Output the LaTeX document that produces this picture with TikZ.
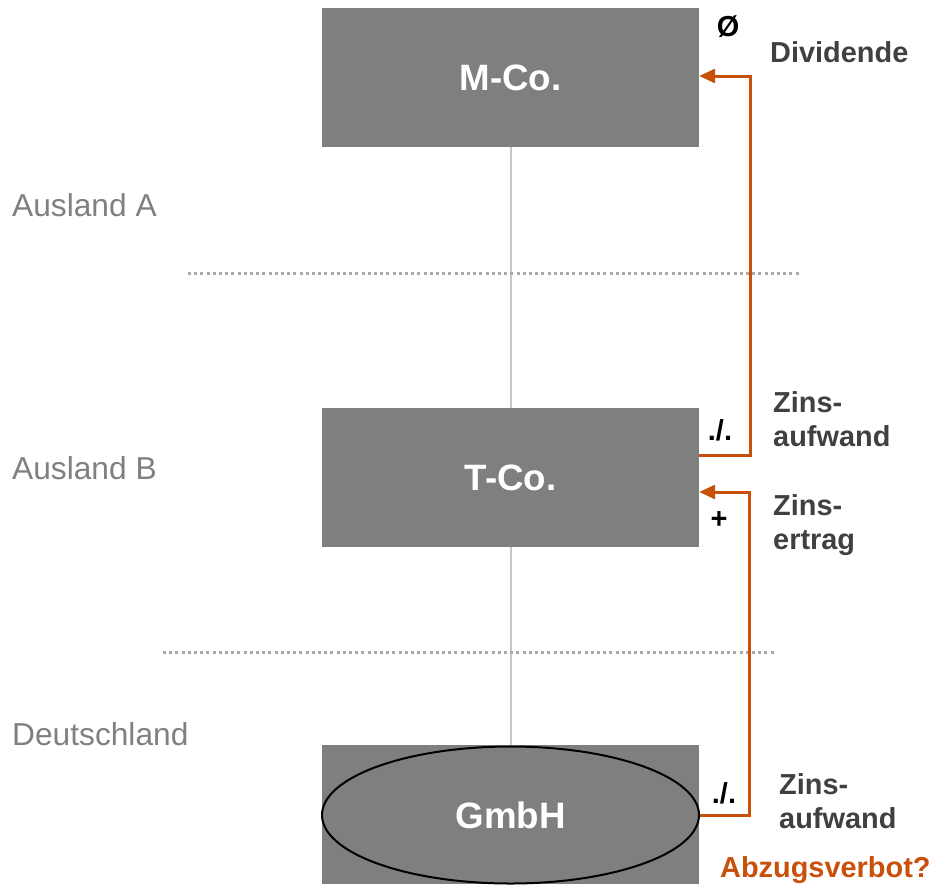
\documentclass[tikz,border=0pt]{standalone}
\usepackage{fontspec}
\setmainfont{Liberation Sans}
\usetikzlibrary{arrows.meta,calc,shapes.geometric}
\definecolor{boxgray}{RGB}{127,127,127}
\definecolor{txtgray}{RGB}{128,128,128}
\definecolor{lbl}{RGB}{64,64,64}
\definecolor{orng}{RGB}{200,80,10}
\definecolor{conn}{RGB}{200,200,200}
\definecolor{dots}{RGB}{170,170,170}
\tikzset{
  entity/.style={fill=boxgray, draw=none, minimum width=377pt, minimum height=139pt, inner sep=0pt,
    text=white, font=\fontsize{36.7}{40}\selectfont\bfseries},
  country/.style={anchor=base west, inner sep=0pt, text=txtgray, font=\fontsize{31.7}{36}\selectfont},
  flowlbl/.style={anchor=base west, inner sep=0pt, text=lbl, align=left, font=\fontsize{28.9}{34}\selectfont\bfseries},
  sign/.style={anchor=base, inner sep=0pt, text=black, font=\fontsize{28.9}{34}\selectfont\bfseries},
  flow/.style={draw=orng, line width=3pt, -{Triangle[length=16pt,width=14pt]}},
  link/.style={draw=conn, line width=2pt},
  border/.style={draw=dots, line width=3pt, dash pattern=on 3pt off 3.2pt},
}
\begin{document}
\begin{tikzpicture}[x=1pt,y=-1pt]
\useasboundingbox (0,0) rectangle (934,884);
% entities
\node[entity] (mco) at (510.5,77.5) {M-Co.};
\node[entity] (tco) at (510.5,477.5) {T-Co.};
\node[entity] (gbox) at (510.5,814.5) {};
\node[ellipse, draw=black, line width=2pt, minimum width=377pt, minimum height=137pt, inner sep=0pt,
  text=white, font=\fontsize{36.7}{40}\selectfont\bfseries] (gmbh) at (510.5,815) {GmbH};
% vertical links
\draw[link] (mco.south) -- (tco.north);
\draw[link] (tco.south) -- (gbox.north);
% dotted borders
\coordinate (b1l) at (188,273); \coordinate (b1r) at (800,273);
\coordinate (b2l) at (163,652); \coordinate (b2r) at (775,652);
\draw[border] (b1l) -- (b1r);
\draw[border] (b2l) -- (b2r);
% country labels
\node[country] (la) at (12,216) {Ausland A};
\node[country] (lb) at (12,479) {Ausland B};
\node[country] (ld) at (12,745) {Deutschland};
% flows
\draw[flow] ($(tco.east)+(0,-22.5)$) -- ++(51,0) |- ($(mco.east)+(0,-1.5)$);
\draw[flow] (gmbh.east) -- ++(49,0) |- ($(tco.east)+(0,14.5)$);
% signs
\node[sign] (s1) at (728,36) {Ø};
\node[sign] (s2) at (720,440) {./.};
\node[sign] (s3) at (719,528) {+};
\node[sign] (s4) at (724,803) {./.};
% labels
\node[flowlbl] (t1) at (770,62) {Dividende};
\node[flowlbl] (t2) at (773,446) {Zins-\\aufwand};
\node[flowlbl] (t3) at (773,549) {Zins-\\ertrag};
\node[flowlbl] (t4) at (779,828) {Zins-\\aufwand};
\node[flowlbl, text=orng] (t5) at (720,877) {Abzugsverbot?};
\end{tikzpicture}
\end{document}
